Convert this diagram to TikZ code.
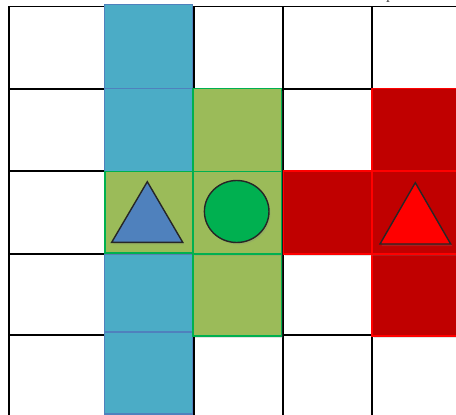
\documentclass[tikz,border=0pt]{standalone}
\usetikzlibrary{shadows}
\definecolor{cellblue}{HTML}{4BACC6}
\definecolor{edgeblue}{HTML}{4F81BD}
\definecolor{cellgreen}{HTML}{9BBB59}
\definecolor{edgegreen}{HTML}{00B050}
\definecolor{cellred}{HTML}{C00000}
\definecolor{edgered}{HTML}{FF0000}
\definecolor{outline}{HTML}{262626}
\tikzset{
  gridline/.style={black, line width=1.5pt},
  softshadow/.style={drop shadow={opacity=0.22, shadow xshift=1.5pt, shadow yshift=-2pt}},
  bluecell/.style={fill=cellblue, draw=edgeblue, line width=1.3pt},
  greencell/.style={fill=cellgreen, draw=edgegreen, line width=1.3pt, softshadow},
  redcell/.style={fill=cellred, draw=edgered, line width=1.3pt, softshadow},
  shapeline/.style={draw=outline, line width=1.4pt, line join=miter, softshadow},
}
\begin{document}
\begin{tikzpicture}[x=1pt, y=-1pt]
\useasboundingbox (0,0) rectangle (456,415);
\fill[white] (0,0) rectangle (456,415);
\begin{scope}
\clip (0,0) rectangle (456,415);
% clipped text fragment at top
\node[anchor=base west, inner sep=0pt, font=\fontsize{14}{14}\selectfont] (ptext) at (386,-0.6) {p};
% grid
\foreach \x in {9,105,194,283,372}
  \draw[gridline] (\x,6.7) -- (\x,420);
\foreach \y in {6.7,89,171,254,335}
  \draw[gridline] (8.25,\y) -- (460,\y);
% blue column
\draw[bluecell] (104.3,4.3) rectangle (192.7,88.5);
\draw[bluecell] (104.3,88.5) rectangle (192.7,171.5);
\draw[bluecell] (104.3,254) rectangle (192.7,332);
\draw[bluecell] (104.3,332) rectangle (192.7,414);
% green cells
\draw[greencell] (193,88.5) rectangle (281.5,171.5);
\draw[greencell] (193,254) rectangle (281.5,336);
\draw[greencell] (105,171.5) rectangle (193,253);
\draw[greencell] (193,171.5) rectangle (281.5,254);
% red cells
\draw[redcell] (372,88.5) rectangle (462,171);
\draw[redcell] (372,254) rectangle (462,336);
\draw[redcell] (283.5,171) rectangle (372,254);
\draw[redcell] (372,171) rectangle (462,254);
% shapes
\draw[shapeline, fill=edgeblue] (147.3,181.7) -- (182.7,242.3) -- (111.7,242.3) -- cycle;
\draw[shapeline, fill=edgegreen] (236.7,211.5) ellipse (32.3pt and 31pt);
\draw[shapeline, fill=edgered] (415.3,182.7) -- (450.7,244) -- (380,244) -- cycle;
\end{scope}
\end{tikzpicture}
\end{document}
